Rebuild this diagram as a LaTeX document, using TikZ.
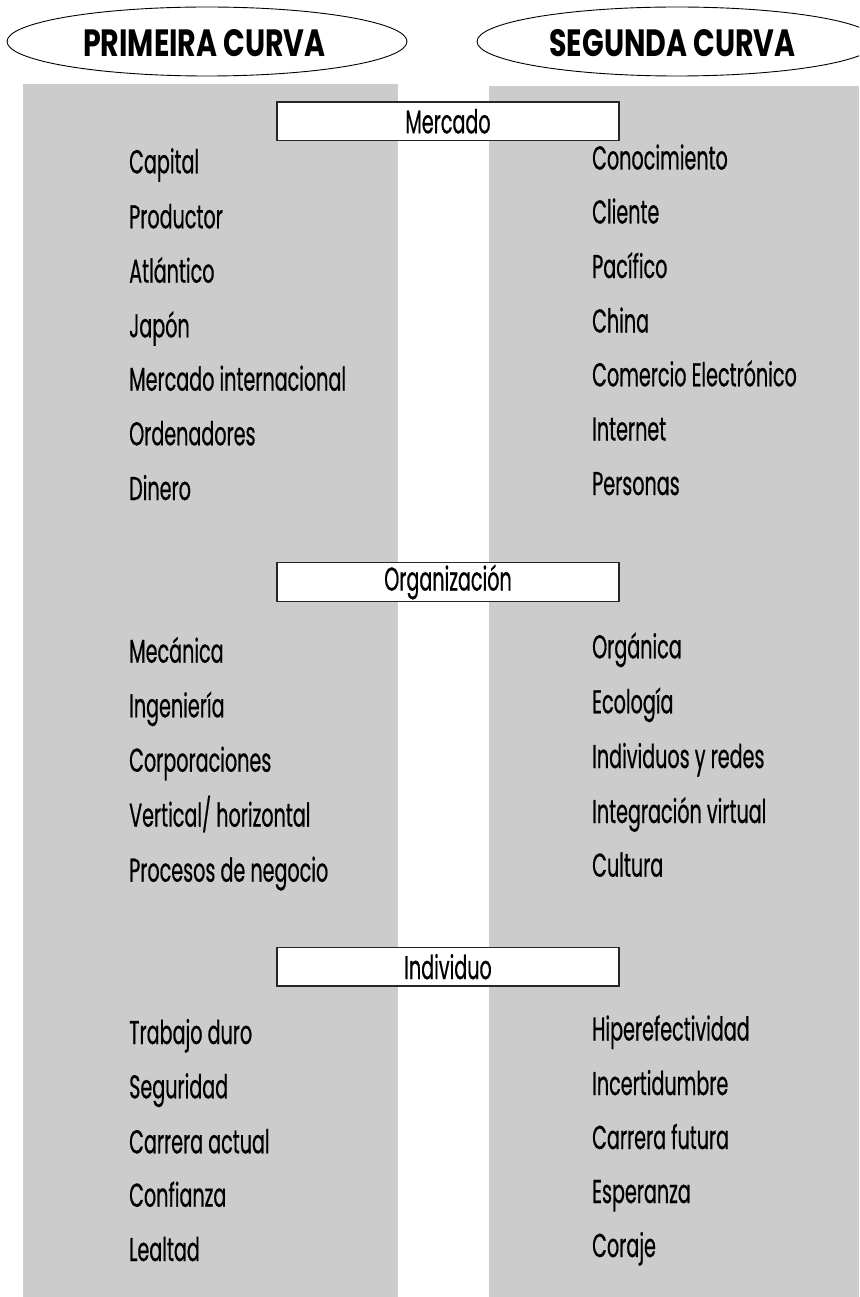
\documentclass[tikz,border=0pt]{standalone}
\usepackage{fontspec}
\setmainfont{Poppins}[FakeStretch=0.58, FakeBold=0.5]
\newfontfamily\titlefont{Poppins}[FakeStretch=0.75]
\usetikzlibrary{shapes.geometric}
\definecolor{panelgrey}{RGB}{204,204,204}
\tikzset{
  item/.style={anchor=base west, inner sep=0pt, font=\fontsize{33}{33}\selectfont},
  headbox/.style={draw=black!85, line width=1.2pt, fill=white, minimum width=342pt, minimum height=38.5pt, inner sep=0pt, font=\fontsize{33}{33}\selectfont},
  titletext/.style={inner sep=0pt, font=\titlefont\bfseries\fontsize{38}{38}\selectfont},
  curve/.style={ellipse, draw=black, line width=0.9pt, minimum width=400pt, minimum height=69pt, inner sep=0pt},
  panel/.style={fill=panelgrey, draw=none}
}
\begin{document}
\begin{tikzpicture}[x=1pt,y=-1pt]
\useasboundingbox (0,0) rectangle (859,1297);
\clip (0,0) rectangle (859,1297);
% panels
\fill[panel] (23,84) rectangle (398,1297);
\fill[panel] (489,86) rectangle (859,1297);
% title ellipses
\node[curve] (c1) at (207,41.5) {};
\node[titletext] (c1t) at (204.5,43) {PRIMEIRA CURVA};
\node[curve] (c2) at (677,41.5) {};
\node[titletext] (c2t) at (672.5,43) {SEGUNDA CURVA};
% section boxes
\node[headbox] (mercado) at (448,121.3) {Mercado};
\node[headbox] (organizacion) at (448,582) {Organización};
\node[headbox] (individuo) at (448,966.7) {Individuo};
% left column - Mercado
\node[item] (l1) at (129,173.3) {Capital};
\node[item] (l2) at (129,228.3) {Productor};
\node[item] (l3) at (129,282.7) {Atlántico};
\node[item] (l4) at (129,337.3) {Japón};
\node[item] (l5) at (129,390.7) {Mercado internacional};
\node[item] (l6) at (129,445.3) {Ordenadores};
\node[item] (l7) at (129,500) {Dinero};
% right column - Mercado
\node[item] (r1) at (592,169.5) {Conocimiento};
\node[item] (r2) at (592,223.5) {Cliente};
\node[item] (r3) at (592,278) {Pacífico};
\node[item] (r4) at (592,332.5) {China};
\node[item] (r5) at (592,386.3) {Comercio Electrónico};
\node[item] (r6) at (592,440.5) {Internet};
\node[item] (r7) at (592,495) {Personas};
% left column - Organizacion
\node[item] (l8) at (129,662.7) {Mecánica};
\node[item] (l9) at (129,717.3) {Ingeniería};
\node[item] (l10) at (129,771.7) {Corporaciones};
\node[item] (l11) at (129,826.7) {Vertical/ horizontal};
\node[item] (l12) at (129,881.7) {Procesos de negocio};
% right column - Organizacion
\node[item] (r8) at (592,658.3) {Orgánica};
\node[item] (r9) at (592,713.3) {Ecología};
\node[item] (r10) at (592,768) {Individuos y redes};
\node[item] (r11) at (592,823) {Integración virtual};
\node[item] (r12) at (592,876.7) {Cultura};
% left column - Individuo
\node[item] (l13) at (129,1044) {Trabajo duro};
\node[item] (l14) at (129,1098.3) {Seguridad};
\node[item] (l15) at (129,1153.3) {Carrera actual};
\node[item] (l16) at (129,1206.7) {Confianza};
\node[item] (l17) at (129,1261) {Lealtad};
% right column - Individuo
\node[item] (r13) at (592,1040.5) {Hiperefectividad};
\node[item] (r14) at (592,1095) {Incertidumbre};
\node[item] (r15) at (592,1149) {Carrera futura};
\node[item] (r16) at (592,1203) {Esperanza};
\node[item] (r17) at (592,1257) {Coraje};
\end{tikzpicture}
\end{document}
